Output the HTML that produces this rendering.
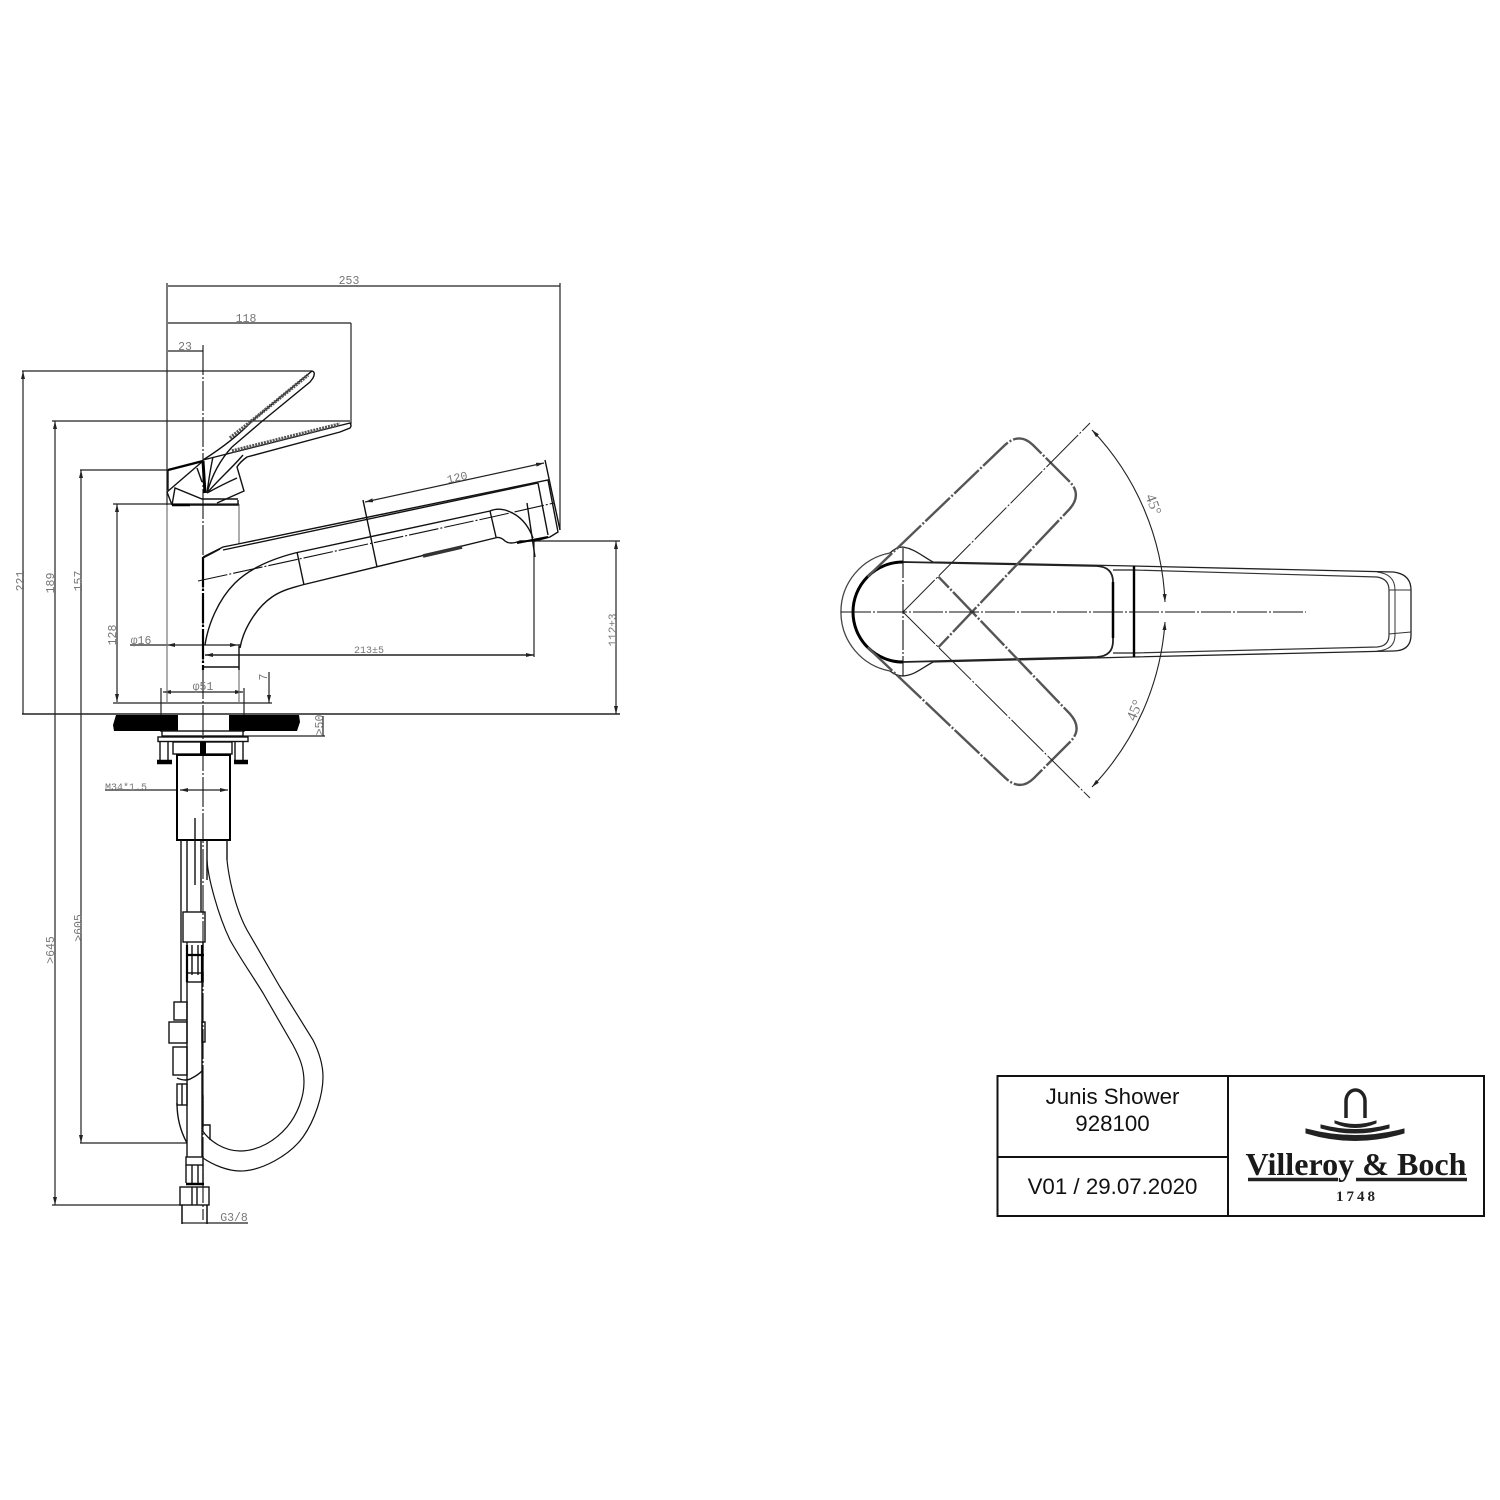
<!DOCTYPE html>
<html><head><meta charset="utf-8"><style>
html,body{margin:0;padding:0;background:#fff}
svg{display:block}
.d{fill:none;stroke:#222;stroke-width:1.2}
.t{fill:none;stroke:#111;stroke-width:1.4}
.k{fill:none;stroke:#000;stroke-width:2.4}
.g{fill:none;stroke:#777;stroke-width:1.2}
.c{fill:none;stroke:#111;stroke-width:1.1;stroke-dasharray:30 2 2 2}
.l{font-family:"Liberation Mono",monospace;font-size:11.5px;fill:#777;text-anchor:middle}
.s{font-family:"Liberation Sans",sans-serif;font-size:22.3px;fill:#111;text-anchor:middle}
.h{fill:none;stroke:#555;stroke-width:2.4;stroke-dasharray:34 2 2 2}
</style></head><body>
<svg width="1500" height="1500" viewBox="0 0 1500 1500" xmlns="http://www.w3.org/2000/svg">
<defs>
<marker id="a" viewBox="0 0 8 4" refX="8" refY="2" markerWidth="8" markerHeight="4" orient="auto-start-reverse" markerUnits="userSpaceOnUse"><path d="M0 0L8 2L0 4Z" fill="#222"/></marker>
</defs>
<rect width="1500" height="1500" fill="#fff"/>

<!-- dimension lines: side view -->
<g class="d">
<path d="M167 283V505M560 283V530M351 323V424M168 286H560M168 323H351M168 351H203"/>
<path d="M22 371H312M52 421H350M80 470H168M113 504H239"/>
<path d="M23 371V714" marker-start="url(#a)"/>
<path d="M55 421V1205" marker-start="url(#a)" marker-end="url(#a)"/>
<path d="M81 470V1143" marker-start="url(#a)" marker-end="url(#a)"/>
<path d="M117 504V702" marker-start="url(#a)" marker-end="url(#a)"/>
<path d="M22 714H620" stroke-width="1.5"/>
<path d="M113 703H272M130 645H167M52 1205H181M80 1143H187M534 541H620"/>
<path d="M616 541V714" marker-start="url(#a)" marker-end="url(#a)"/>
<path d="M534 541V657"/>
<path d="M205 655H534" marker-start="url(#a)" marker-end="url(#a)" stroke-width="1.5"/>
<path d="M167 645H238" marker-start="url(#a)" marker-end="url(#a)"/>
<path d="M163 692H243" marker-start="url(#a)" marker-end="url(#a)"/>
<path d="M161 688V732M244 688V732"/>
<path d="M269 672V703" marker-end="url(#a)"/>
<path d="M243 736H325M323 716V736"/>
<path d="M105 790H177"/>
<path d="M180 790H228" marker-start="url(#a)" marker-end="url(#a)"/>
<path d="M182 1205V1224M207 1205V1224M182 1223H248"/>
<path d="M365 502L544 463" marker-start="url(#a)" marker-end="url(#a)"/>
</g>
<path class="g" d="M167 505V703M239 504V544M239 655V703"/>
<path d="M203 667H239M239 644V670" fill="none" stroke="#111" stroke-width="1.4"/>
<path class="c" d="M203 345V1220" stroke="#111"/>
<path d="M203 557V670" stroke="#000" stroke-width="2.2" stroke-dasharray="30 2 2 2" fill="none"/>

<!-- lever -->
<g class="t">
<path d="M203 460C225 446 240 434 253 420L312 371Q316 372 313 378L310 382L260 423L232 447"/>
<path d="M203 460L350 423Q352 426 350 428L340 432L247 457Q240 462 237 467L244 491L217 503"/>
<path d="M167 492L203 461M168 470V490M167 492L172 505M172 505L175 488L202 499H238M197 468L202 482M172 505H238V500"/>
<path d="M207 493C209 478 211 466 213 457M207 493C212 475 220 460 232 447M207 493C220 478 232 468 243 455M207 493C218 487 228 482 237 478"/>
</g>
<path d="M168 470L203 461" stroke="#000" stroke-width="2.4" fill="none"/>
<path d="M203 461L205 493" stroke="#000" stroke-width="3" fill="none"/>
<path d="M172 505H190" stroke="#000" stroke-width="2.4" fill="none"/>
<path d="M230 438L254 419L308 375" stroke="#555" stroke-width="3.5" stroke-dasharray="2 1" fill="none"/>
<path d="M232 451L340 424" stroke="#555" stroke-width="3.5" stroke-dasharray="2 1" fill="none"/>

<!-- spout -->
<g class="t">
<path d="M203 557L223 547L238 544L548 480L558 532L550 537L535 541H520Q510 545 505 541Q500 536 495 538L302 585"/>
<path d="M223 550L538 483M203 558L220 549"/>
<path d="M205 645C208 625 218 600 235 583C250 568 272 559 295 553L490 511Q497 508 505 510Q525 516 533 538"/>
<path d="M240 648C243 630 256 608 272 597C282 590 292 588 302 585"/>
<path d="M297 552L304 585M490 511L496 537M538 483L548 535M363 500L377 567M545 460L560 530M527 503L535 557"/>
</g>
<path class="c" d="M198 581L492 517L554 503" stroke-dasharray="40 2 2 2"/>
<path d="M423 556L462 547" stroke="#333" stroke-width="3.5" fill="none"/>
<path d="M517 543L548 537" stroke="#000" stroke-width="2" fill="none"/>

<!-- countertop -->
<path d="M116 715H178V731H114L113 725ZM229 715H299L300 722L297 731H229Z" fill="#000"/>

<!-- mount -->
<g class="t">
<rect x="162" y="731" width="81" height="5"/>
<rect x="158" y="737" width="90" height="4.5"/>
<rect x="173" y="742" width="59" height="12"/>
<path d="M160 742V760M168 742V760M235 742V760M243 742V760"/>
</g>
<path d="M157 762H172M234 762H248" stroke="#000" stroke-width="4.5" fill="none"/>
<rect x="200" y="742" width="6" height="12" fill="#000"/>
<rect x="177" y="755" width="53" height="85" fill="none" stroke="#000" stroke-width="2"/>

<!-- hoses and fittings -->
<g class="t">
<path d="M181 840V1002M187 840V912M201 840V912M207 840V880M227 840V860M195 818V885"/>
<rect x="183" y="912" width="22" height="30"/>
<path d="M187 942V982M203 942V982M192 945V975M198 945V975"/>
<rect x="187" y="973" width="16" height="9"/>
<path d="M187 982V1157M202 982V1157"/>
<rect x="186" y="1157" width="17" height="8"/>
<path d="M186 1165V1183M203 1165V1183M192 1165V1183M198 1165V1183"/>
<rect x="180" y="1187" width="29" height="18"/>
<path d="M192 1187V1205M197 1187V1205M182 1205V1224M207 1205V1224"/>
<rect x="174" y="1002" width="13" height="18"/>
<rect x="169" y="1022" width="18" height="21"/>
<rect x="173" y="1047" width="14" height="28"/>
<rect x="177" y="1084" width="10" height="21"/>
<path d="M182 1084V1105"/>
<path d="M177 1103Q177 1125 187 1143M177 1078Q186 1082 192 1078Q198 1075 202 1071"/>
<rect x="202" y="1022" width="3" height="20"/>
<path d="M203 1095V1127M203 1125H210V1140"/>
<path d="M207 860C208 878 218 915 230 940C240 958 250 972 263 993L293 1045C300 1058 304 1068 304 1082C304 1098 297 1115 287 1127C275 1141 258 1151 240 1151C225 1151 210 1142 202 1130" stroke-width="1.2"/>
<path d="M227 860C229 880 236 910 247 930L280 987L313 1040C319 1052 323 1064 323 1077C323 1095 315 1120 303 1137C290 1155 262 1171 240 1171C228 1171 213 1165 203 1158" stroke-width="1.2"/>
</g>
<path d="M187 945V982M202 945V982M186 955H204" stroke="#000" stroke-width="2.2" fill="none"/>
<path d="M186 1184H204" stroke="#000" stroke-width="2.6" fill="none"/>

<!-- side labels -->
<g class="l">
<text x="349" y="284">253</text><text x="246" y="322">118</text><text x="185" y="350">23</text>
<text transform="translate(24,581) rotate(-90)">221</text>
<text transform="translate(54,583) rotate(-90)">189</text>
<text transform="translate(82,581) rotate(-90)">157</text>
<text transform="translate(116,635) rotate(-90)">128</text>
<text x="141" y="644">φ16</text>
<text transform="translate(458,481) rotate(-13)">120</text>
<text x="369" y="653" font-size="10">213±5</text>
<text transform="translate(616,630) rotate(-90)" font-size="11">112±3</text>
<text x="203" y="690">φ51</text>
<text transform="translate(267,677) rotate(-90)">7</text>
<text transform="translate(323,725) rotate(-90)">&gt;50</text>
<text x="126" y="790" font-size="10">M34*1.5</text>
<text transform="translate(82,928) rotate(-90)">&gt;605</text>
<text transform="translate(54,950) rotate(-90)">&gt;645</text>
<text x="234" y="1221">G3/8</text>
</g>

<!-- top view -->
<g>
<path d="M890 553A60 60 0 0 0 890 671" fill="none" stroke="#444" stroke-width="1.3"/>
<path d="M890 553Q896 547 903 547C915 549 922 556 933 562L1133 566L1393 572Q1411 574 1411 590V635Q1411 651 1393 651L1133 657L933 662C922 668 915 675 903 676Q896 676 890 671" fill="none" stroke="#222" stroke-width="1.3"/>
<path d="M1133 570L1377 577Q1389 579 1389 590V635Q1389 646 1377 647L1133 653" fill="none" stroke="#333" stroke-width="1.2"/>
<path d="M1377 572Q1395 574 1395 590V635Q1395 650 1377 651M1389 590H1411M1389 634L1411 632" fill="none" stroke="#333" stroke-width="1"/>
<path d="M1113 570H1134M1113 653H1134" fill="none" stroke="#222" stroke-width="1.2"/>
<path d="M1134 566V657" stroke="#000" stroke-width="2.4" fill="none"/>
<path d="M903 562L1097 566Q1113 567 1113 582V641Q1113 656 1097 657L903 662A50 50 0 0 1 903 562Z" fill="none" stroke="#222" stroke-width="1.8"/>
<path d="M1113 582V638" stroke="#000" stroke-width="2.500" fill="none"/>
<path d="M903 662A50 50 0 0 1 903 562" fill="none" stroke="#000" stroke-width="3"/>
<g transform="rotate(-45 903 612)"><path class="h" d="M903 562L1093 566Q1113 567 1113 586V637Q1113 656 1093 657L903 662"/></g>
<g transform="rotate(45 903 612)"><path class="h" d="M903 662L1093 657Q1113 656 1113 637V586Q1113 567 1093 566L903 562"/></g>
<path class="c" d="M841 612H1306"/>
<path class="c" d="M903 548V676" stroke-dasharray="20 2 2 2"/>
<path d="M903 612L1090 423M903 612L1090 798" fill="none" stroke="#222" stroke-width="1" stroke-dasharray="45 2 2 2"/>
<path d="M1092 430A265 265 0 0 1 1165 602" fill="none" stroke="#222" stroke-width="1.1" marker-start="url(#a)" marker-end="url(#a)"/>
<path d="M1165 622A265 265 0 0 1 1092 787" fill="none" stroke="#222" stroke-width="1.1" marker-start="url(#a)" marker-end="url(#a)"/>
<text class="l" transform="translate(1149,506) rotate(70)" style="font-family:'Liberation Serif',serif;font-size:15px">45°</text>
<text class="l" transform="translate(1139,712) rotate(-68)" style="font-family:'Liberation Serif',serif;font-size:15px">45°</text>
</g>

<!-- title block -->
<rect x="997.5" y="1076" width="486.5" height="140" fill="none" stroke="#111" stroke-width="2"/>
<path d="M1228 1076V1216M997 1157H1228" fill="none" stroke="#111" stroke-width="2"/>
<text class="s" x="1112.500" y="1104">Junis Shower</text>
<text class="s" x="1112.500" y="1131">928100</text>
<text class="s" x="1112.500" y="1194">V01 / 29.07.2020</text>

<!-- logo -->
<path d="M1346 1118V1101A9.500 11 0 0 1 1365 1101V1118" fill="none" stroke="#222" stroke-width="3.5"/>
<path d="M1335 1121Q1355 1128 1376 1121L1376 1123Q1355 1132 1335 1123Z" fill="#222" stroke="#222"/>
<path d="M1321 1125Q1355 1134 1389 1125L1389 1128Q1355 1138 1321 1128Z" fill="#222" stroke="#222"/>
<path d="M1306 1129Q1355 1142 1404 1129L1404 1133Q1355 1148 1306 1133Z" fill="#222" stroke="#222"/>
<text x="1356" y="1175" text-anchor="middle" style="font-family:'Liberation Serif',serif;font-weight:bold;font-size:32px;fill:#1a1a1a" textLength="221" lengthAdjust="spacingAndGlyphs">Villeroy &amp; Boch</text>
<path d="M1248 1179.500H1338M1356 1179.500H1467" stroke="#222" stroke-width="3.5" fill="none"/>
<text x="1357" y="1201" text-anchor="middle" style="font-family:'Liberation Serif',serif;font-weight:bold;font-size:15px;letter-spacing:3px;fill:#222">1748</text>
</svg>
</body></html>
